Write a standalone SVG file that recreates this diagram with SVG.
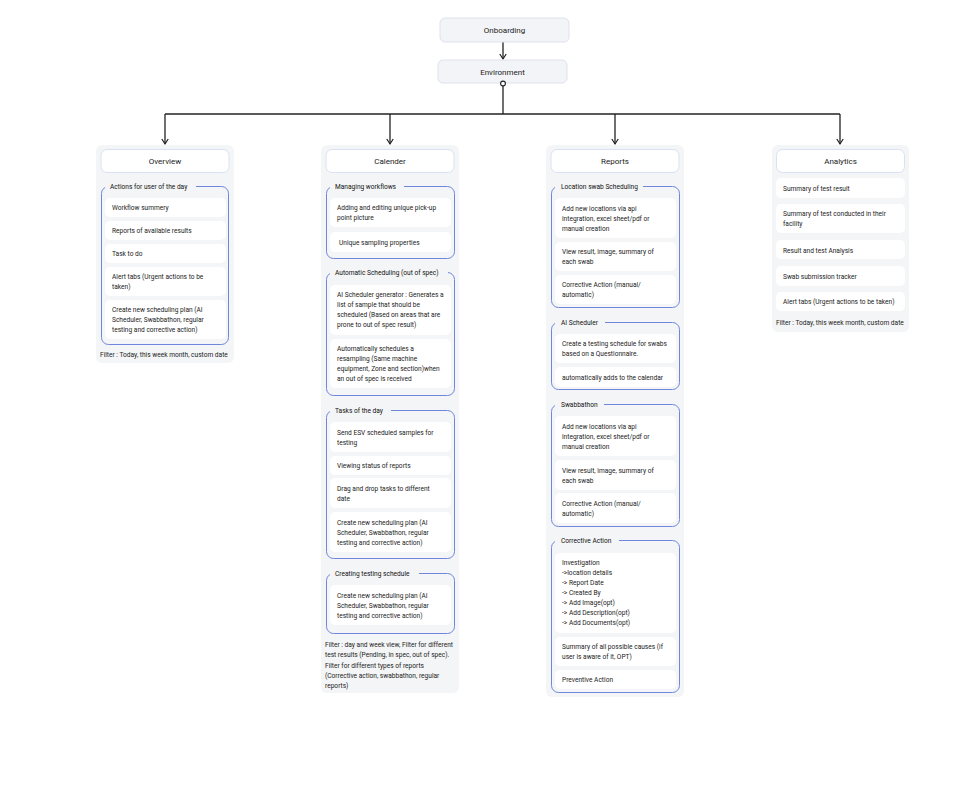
<svg xmlns="http://www.w3.org/2000/svg" width="980" height="804" viewBox="0 0 980 804">
<defs>
<marker id="arr" markerUnits="userSpaceOnUse" markerWidth="8" markerHeight="8" refX="6" refY="4" orient="auto">
<path d="M1,0.8 L6,4 L1,7.2" fill="none" stroke="#222" stroke-width="1.2"/>
</marker>
<style>
text{font-family:Roboto,"Liberation Sans",sans-serif;fill:#222;font-size:6.6px}
.top{fill:#f3f4f7;stroke:#dde2ec;stroke-width:1}
.panel{fill:#f4f5f7;stroke:none}
.head{fill:#fff;stroke:#d9e1f2;stroke-width:1}
.grp{fill:none;stroke:#7086dc;stroke-width:1}
.gap{fill:#f4f5f7;stroke:none}
.item{fill:#fff;stroke:none}
.ht{font-size:8px;text-anchor:middle}
.tt{font-size:8px;text-anchor:middle}
.gl{fill:#111}
.con{fill:none;stroke:#222;stroke-width:1.3}
</style>
</defs>
<rect width="980" height="804" fill="#fff"/>

<g id="connectors">
<line class="con" x1="503" y1="42" x2="503" y2="59" marker-end="url(#arr)"/>
<line class="con" x1="503" y1="86" x2="503" y2="114"/>
<line class="con" x1="165" y1="114" x2="840" y2="114"/>
<line class="con" x1="165" y1="114" x2="165" y2="144" marker-end="url(#arr)"/>
<line class="con" x1="390" y1="114" x2="390" y2="144" marker-end="url(#arr)"/>
<line class="con" x1="615" y1="114" x2="615" y2="144" marker-end="url(#arr)"/>
<line class="con" x1="840" y1="114" x2="840" y2="144" marker-end="url(#arr)"/>
</g>

<g id="onboarding">
<rect class="top" x="440" y="18" width="129" height="24" rx="5"/>
<text class="tt" x="504.5" y="33">Onboarding</text>
</g>
<g id="environment">
<rect class="top" x="438" y="60" width="129" height="23" rx="5"/>
<text class="tt" x="502.5" y="74.5">Environment</text>
<circle cx="503" cy="83.5" r="2.4" fill="#fff" stroke="#222" stroke-width="1.1"/>
</g>

<!-- Overview -->
<g id="overview">
<rect class="panel" x="96" y="145" width="138" height="218" rx="6"/>
<rect class="head" x="101" y="149.5" width="128" height="23" rx="6"/>
<text class="ht" x="165" y="164">Overview</text>
<rect class="grp" x="101.5" y="186.5" width="127" height="158" rx="7"/>
<rect class="gap" x="105" y="182" width="91" height="8"/>
<text class="gl" x="110" y="188.5">Actions for user of the day</text>
<rect class="item" x="105" y="198" width="121" height="19" rx="5"/>
<text x="112" y="210">Workflow summery</text>
<rect class="item" x="105" y="221" width="121" height="19" rx="5"/>
<text x="112" y="233">Reports of available results</text>
<rect class="item" x="105" y="244" width="121" height="19" rx="5"/>
<text x="112" y="256">Task to do</text>
<rect class="item" x="105" y="267" width="121" height="29" rx="5"/>
<text x="112" y="279">Alert tabs (Urgent actions to be</text>
<text x="112" y="289">taken)</text>
<rect class="item" x="105" y="300" width="121" height="39" rx="5"/>
<text x="112" y="312">Create new scheduling plan (AI</text>
<text x="112" y="322">Scheduler, Swabbathon, regular</text>
<text x="112" y="332">testing and corrective action)</text>
<text x="100" y="356.5">Filter : Today, this week month, custom date</text>
</g>

<!-- Calender -->
<g id="calender">
<rect class="panel" x="321" y="145" width="138" height="548" rx="6"/>
<rect class="head" x="326" y="149.5" width="128" height="23" rx="6"/>
<text class="ht" x="390" y="164">Calender</text>

<rect class="grp" x="326.5" y="186.5" width="128" height="72" rx="7"/>
<rect class="gap" x="330" y="182" width="74" height="8"/>
<text class="gl" x="335" y="188.5">Managing workflows</text>
<rect class="item" x="330" y="198" width="121" height="29" rx="5"/>
<text x="337" y="210">Adding and editing unique pick-up</text>
<text x="337" y="220">point picture</text>
<rect class="item" x="330" y="232" width="121" height="20" rx="5"/>
<text x="339" y="244.5">Unique sampling properties</text>

<rect class="grp" x="326.5" y="272.5" width="128" height="123" rx="7"/>
<rect class="gap" x="330" y="268" width="118" height="8"/>
<text class="gl" x="335" y="274.5">Automatic Scheduling (out of spec)</text>
<rect class="item" x="330" y="285" width="121" height="50" rx="5"/>
<text x="337" y="297">AI Scheduler generator : Generates a</text>
<text x="337" y="307">list of sample that should be</text>
<text x="337" y="317">scheduled (Based on areas that are</text>
<text x="337" y="327">prone to out of spec result)</text>
<rect class="item" x="330" y="339" width="121" height="49" rx="5"/>
<text x="337" y="350.5">Automatically schedules a</text>
<text x="337" y="360.5">resampling (Same machine</text>
<text x="337" y="370.5">equipment, Zone and section)when</text>
<text x="337" y="380.5">an out of spec is received</text>

<rect class="grp" x="326.5" y="410.5" width="128" height="148" rx="7"/>
<rect class="gap" x="330" y="406" width="61" height="8"/>
<text class="gl" x="335" y="412.5">Tasks of the day</text>
<rect class="item" x="330" y="422" width="121" height="30" rx="5"/>
<text x="337" y="434.5">Send ESV scheduled samples for</text>
<text x="337" y="444.5">testing</text>
<rect class="item" x="330" y="456" width="121" height="19" rx="5"/>
<text x="337" y="467.5">Viewing status of reports</text>
<rect class="item" x="330" y="478" width="121" height="30" rx="5"/>
<text x="337" y="490.5">Drag and drop tasks to different</text>
<text x="337" y="500.5">date</text>
<rect class="item" x="330" y="512" width="121" height="40" rx="5"/>
<text x="337" y="524.5">Create new scheduling plan (AI</text>
<text x="337" y="534.5">Scheduler, Swabbathon, regular</text>
<text x="337" y="544.5">testing and corrective action)</text>

<rect class="grp" x="326.5" y="573.5" width="128" height="60" rx="7"/>
<rect class="gap" x="330" y="569" width="89" height="8"/>
<text class="gl" x="335" y="575.5">Creating testing schedule</text>
<rect class="item" x="330" y="585" width="121" height="40" rx="5"/>
<text x="337" y="597.5">Create new scheduling plan (AI</text>
<text x="337" y="607.5">Scheduler, Swabbathon, regular</text>
<text x="337" y="617.5">testing and corrective action)</text>

<text x="325" y="646.5">Filter : day and week view, Filter for different</text>
<text x="325" y="657">test results (Pending, in spec, out of spec).</text>
<text x="325" y="667.5">Filter for different types of reports</text>
<text x="325" y="677.5">(Corrective action, swabbathon, regular</text>
<text x="325" y="688">reports)</text>
</g>

<!-- Reports -->
<g id="reports">
<rect class="panel" x="546" y="145" width="138" height="552" rx="6"/>
<rect class="head" x="551" y="149.5" width="128" height="23" rx="6"/>
<text class="ht" x="615" y="164">Reports</text>

<rect class="grp" x="551.5" y="186.5" width="128" height="121" rx="7"/>
<rect class="gap" x="555" y="182" width="88" height="8"/>
<text class="gl" x="561" y="188.5">Location swab Scheduling</text>
<rect class="item" x="555" y="198" width="121" height="40" rx="5"/>
<text x="562" y="210.5">Add new locations via api</text>
<text x="562" y="220.5">integration, excel sheet/pdf or</text>
<text x="562" y="230.5">manual creation</text>
<rect class="item" x="555" y="242" width="121" height="29" rx="5"/>
<text x="562" y="254">View result, image, summary of</text>
<text x="562" y="264">each swab</text>
<rect class="item" x="555" y="275" width="121" height="29" rx="5"/>
<text x="562" y="287">Corrective Action (manual/</text>
<text x="562" y="297">automatic)</text>

<rect class="grp" x="551.5" y="322.5" width="128" height="67" rx="7"/>
<rect class="gap" x="555" y="318" width="50" height="8"/>
<text class="gl" x="561" y="324.5">AI Scheduler</text>
<rect class="item" x="555" y="334" width="121" height="29" rx="5"/>
<text x="562" y="346">Create a testing schedule for swabs</text>
<text x="562" y="356">based on a Questionnaire.</text>
<rect class="item" x="555" y="367" width="121" height="20" rx="5"/>
<text x="562" y="379.5">automatically adds to the calendar</text>

<rect class="grp" x="551.5" y="404.5" width="128" height="122" rx="7"/>
<rect class="gap" x="555" y="400" width="49" height="8"/>
<text class="gl" x="561" y="406.5">Swabbathon</text>
<rect class="item" x="555" y="416" width="121" height="40" rx="5"/>
<text x="562" y="428.5">Add new locations via api</text>
<text x="562" y="438.5">integration, excel sheet/pdf or</text>
<text x="562" y="448.5">manual creation</text>
<rect class="item" x="555" y="460" width="121" height="30" rx="5"/>
<text x="562" y="472.5">View result, image, summary of</text>
<text x="562" y="482.5">each swab</text>
<rect class="item" x="555" y="493" width="121" height="30" rx="5"/>
<text x="562" y="505.5">Corrective Action (manual/</text>
<text x="562" y="515.5">automatic)</text>

<rect class="grp" x="551.5" y="540.5" width="128" height="152" rx="7"/>
<rect class="gap" x="555" y="536" width="64" height="8"/>
<text class="gl" x="561" y="542.5">Corrective Action</text>
<rect class="item" x="555" y="553" width="121" height="80" rx="5"/>
<text x="562" y="564.5">Investigation</text>
<text x="562" y="574.5">-&gt;location details</text>
<text x="562" y="584.5">-&gt; Report Date</text>
<text x="562" y="594.5">-&gt; Created By</text>
<text x="562" y="604.5">-&gt; Add Image(opt)</text>
<text x="562" y="614.5">-&gt; Add Description(opt)</text>
<text x="562" y="624.5">-&gt; Add Documents(opt)</text>
<rect class="item" x="555" y="637" width="121" height="29" rx="5"/>
<text x="562" y="648.5">Summary of all possible causes (if</text>
<text x="562" y="658.5">user is aware of it, OPT)</text>
<rect class="item" x="555" y="670" width="121" height="19" rx="5"/>
<text x="562" y="682">Preventive Action</text>
</g>

<!-- Analytics -->
<g id="analytics">
<rect class="panel" x="772" y="145" width="137" height="187" rx="6"/>
<rect class="head" x="776.5" y="149.5" width="128" height="23" rx="6"/>
<text class="ht" x="840.5" y="164">Analytics</text>
<rect class="item" x="776" y="178" width="129" height="20" rx="5"/>
<text x="783" y="190.5">Summary of test result</text>
<rect class="item" x="776" y="204" width="129" height="29" rx="5"/>
<text x="783" y="216">Summary of test conducted in their</text>
<text x="783" y="226">facility</text>
<rect class="item" x="776" y="240" width="129" height="19" rx="5"/>
<text x="783" y="252.5">Result and test Analysis</text>
<rect class="item" x="776" y="266" width="129" height="20" rx="5"/>
<text x="783" y="278.5">Swab submission tracker</text>
<rect class="item" x="776" y="292" width="129" height="19" rx="5"/>
<text x="783" y="304">Alert tabs (Urgent actions to be taken)</text>
<text x="776" y="325">Filter : Today, this week month, custom date</text>
</g>
</svg>
